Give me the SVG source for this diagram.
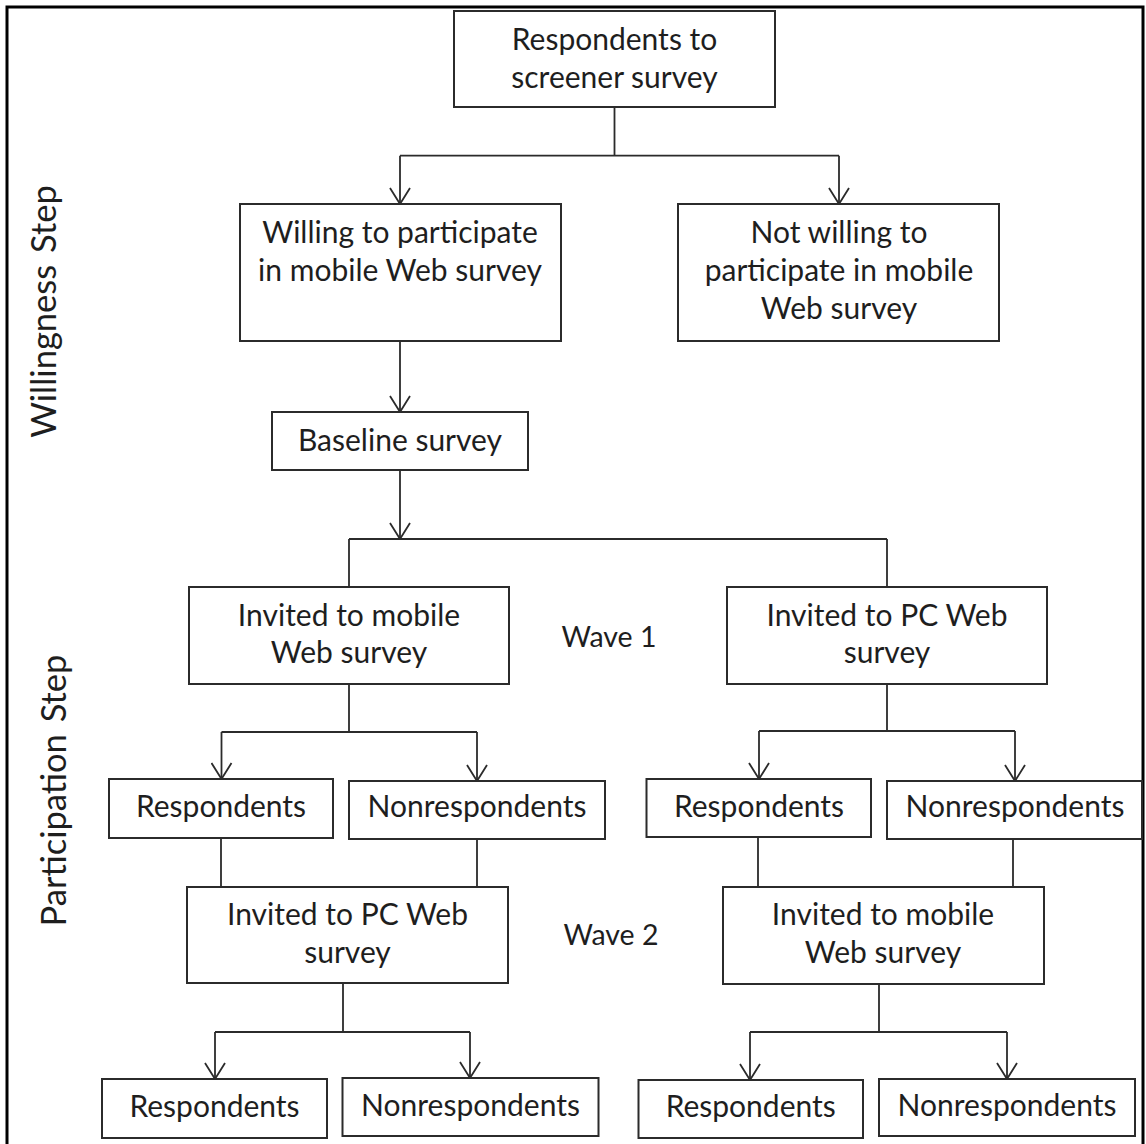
<svg xmlns="http://www.w3.org/2000/svg" width="1146" height="1144" viewBox="0 0 1146 1144">
<defs>
<style>
.box{fill:#fff;stroke:#2b2b2b;stroke-width:2}
.t{font-family:Lato,"Liberation Sans",sans-serif;font-size:30px;fill:#1e1e1e;text-anchor:middle}
.w{font-size:28.5px}
.side{font-family:Lato,"Liberation Sans",sans-serif;font-size:34.5px;fill:#1e1e1e;text-anchor:middle}
.c{fill:none;stroke:#2b2b2b;stroke-width:1.8}
.a{marker-end:url(#arr)}
</style>
<marker id="arr" markerUnits="userSpaceOnUse" viewBox="0 0 18 22" markerWidth="18" markerHeight="22" refX="17" refY="11" orient="auto">
<path d="M1,1 L17,11 L1,21" fill="none" stroke="#2b2b2b" stroke-width="1.8"/>
</marker>
</defs>
<rect x="0" y="0" width="1146" height="1144" fill="#fff"/>
<rect id="frame" x="7" y="7" width="1136" height="1145" fill="none" stroke="#000" stroke-width="3"/>

<g id="labels">
<text class="side" transform="translate(56,311.5) rotate(-90)" word-spacing="3">Willingness Step</text>
<text class="side" transform="translate(66,790.5) rotate(-90)" word-spacing="3">Participation Step</text>
<text class="t w" x="609" y="647">Wave 1</text>
<text class="t w" x="611" y="945">Wave 2</text>
</g>

<g id="connectors">
<path class="c" d="M614.5,107 V155.7 M400,155.7 H839"/>
<path class="c a" d="M400,155.7 V204"/>
<path class="c a" d="M839,155.7 V204"/>
<path class="c a" d="M400,341 V412"/>
<path class="c a" d="M400,470 V539"/>
<path class="c" d="M349,539 H887 M349,539 V587 M887,539 V587"/>
<path class="c" d="M349,684 V732 M221.5,732 H477"/>
<path class="c a" d="M221.5,732 V779"/>
<path class="c a" d="M477,732 V781"/>
<path class="c" d="M887,684 V731 M759,731 H1015"/>
<path class="c a" d="M759,731 V779"/>
<path class="c a" d="M1015,731 V781"/>
<path class="c" d="M221,838 V887 M477,839 V887 M758,837 V887 M1013,839 V887"/>
<path class="c" d="M343,983 V1032 M215,1032 H470"/>
<path class="c a" d="M215,1032 V1079"/>
<path class="c a" d="M470,1032 V1078"/>
<path class="c" d="M879,984 V1032 M750,1032 H1007"/>
<path class="c a" d="M750,1032 V1080"/>
<path class="c a" d="M1007,1032 V1079"/>
</g>

<g id="n-screener">
<rect class="box" x="454" y="11" width="321" height="96"/>
<text class="t" x="614.5" y="50">Respondents to</text>
<text class="t" x="614.5" y="88">screener survey</text>
</g>
<g id="n-willing">
<rect class="box" x="240" y="204" width="321" height="137"/>
<text class="t" x="400" y="243">Willing to participate</text>
<text class="t" x="400" y="281">in mobile Web survey</text>
</g>
<g id="n-notwilling">
<rect class="box" x="678" y="204" width="321" height="137"/>
<text class="t" x="839" y="243">Not willing to</text>
<text class="t" x="839" y="281">participate in mobile</text>
<text class="t" x="839" y="319">Web survey</text>
</g>
<g id="n-baseline">
<rect class="box" x="272" y="412" width="256" height="58"/>
<text class="t" x="400" y="451">Baseline survey</text>
</g>
<g id="n-w1-mobile">
<rect class="box" x="189" y="587" width="320" height="97"/>
<text class="t" x="349" y="626">Invited to mobile</text>
<text class="t" x="349" y="663">Web survey</text>
</g>
<g id="n-w1-pc">
<rect class="box" x="727" y="587" width="320" height="97"/>
<text class="t" x="887" y="626">Invited to PC Web</text>
<text class="t" x="887" y="663">survey</text>
</g>
<g id="n-w1-resp-l">
<rect class="box" x="109" y="779" width="224" height="59"/>
<text class="t" x="221" y="817">Respondents</text>
</g>
<g id="n-w1-non-l">
<rect class="box" x="349" y="781" width="256" height="58"/>
<text class="t" x="477" y="817">Nonrespondents</text>
</g>
<g id="n-w1-resp-r">
<rect class="box" x="646.5" y="779" width="224.5" height="58"/>
<text class="t" x="759" y="817">Respondents</text>
</g>
<g id="n-w1-non-r">
<rect class="box" x="887" y="781" width="255" height="58"/>
<text class="t" x="1015" y="817">Nonrespondents</text>
</g>
<g id="n-w2-pc">
<rect class="box" x="187" y="887" width="321" height="96"/>
<text class="t" x="347.5" y="925">Invited to PC Web</text>
<text class="t" x="347.5" y="963">survey</text>
</g>
<g id="n-w2-mobile">
<rect class="box" x="723" y="887" width="321" height="97"/>
<text class="t" x="883" y="925">Invited to mobile</text>
<text class="t" x="883" y="963">Web survey</text>
</g>
<g id="n-w2-resp-l">
<rect class="box" x="102" y="1079" width="225" height="59"/>
<text class="t" x="214.5" y="1117">Respondents</text>
</g>
<g id="n-w2-non-l">
<rect class="box" x="342.5" y="1078" width="256" height="58"/>
<text class="t" x="470.5" y="1116">Nonrespondents</text>
</g>
<g id="n-w2-resp-r">
<rect class="box" x="638.5" y="1080" width="224.5" height="58"/>
<text class="t" x="750.7" y="1117">Respondents</text>
</g>
<g id="n-w2-non-r">
<rect class="box" x="879" y="1079" width="256" height="57"/>
<text class="t" x="1007" y="1116">Nonrespondents</text>
</g>
</svg>
